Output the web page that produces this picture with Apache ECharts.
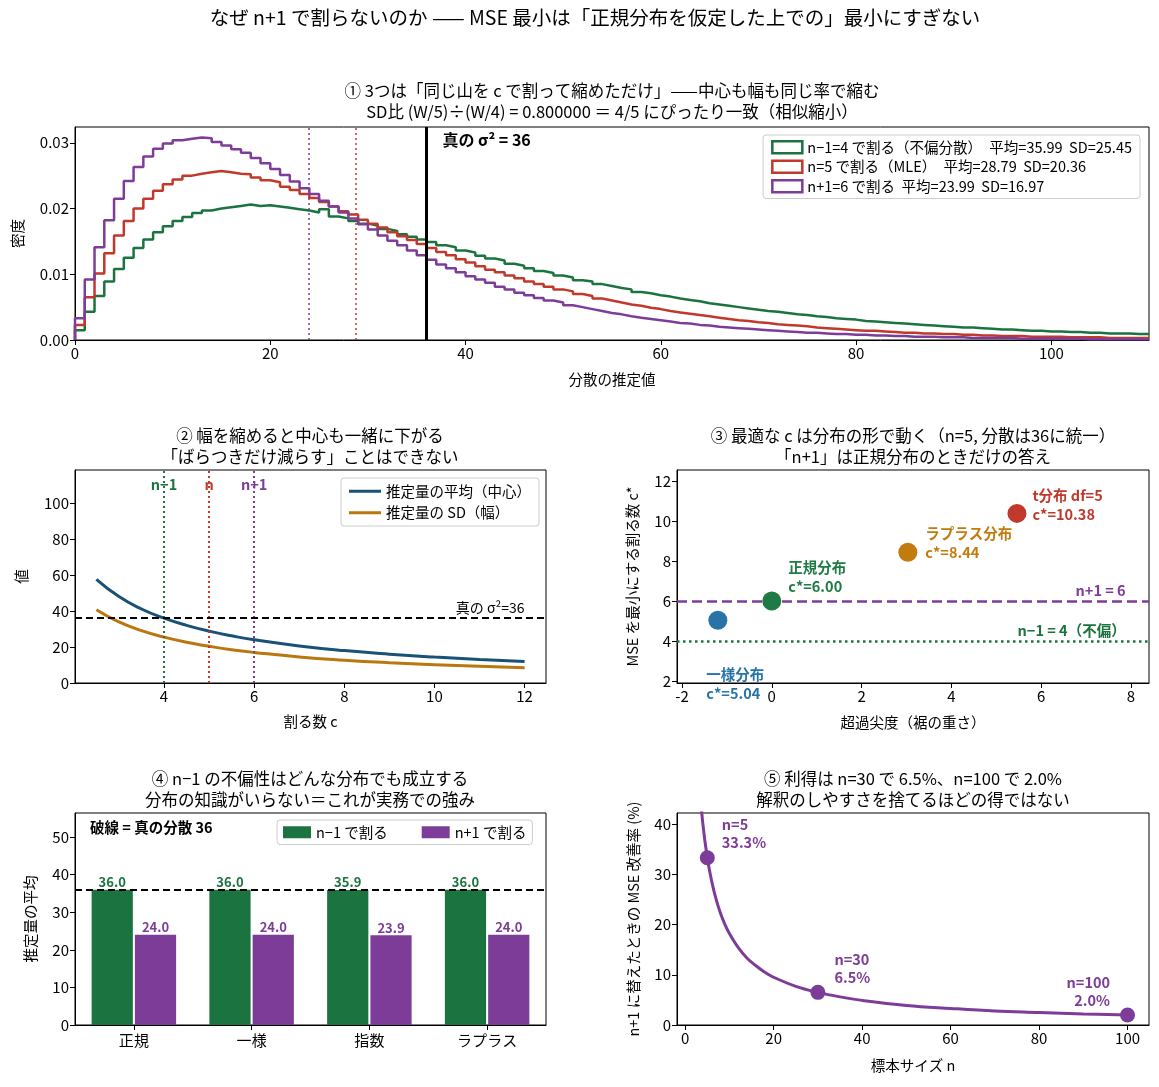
<!DOCTYPE html>
<html>
<head>
<meta charset="utf-8">
<script src="https://cdn.jsdelivr.net/npm/echarts@6/dist/echarts.min.js"></script>
<style>
html, body { margin: 0; padding: 0; background: #fff; }
#main { width: 1159px; height: 1087px; }
</style>
</head>
<body>
<div id="main"></div>
<script>
const FONT = '"Noto Sans CJK JP", "Noto Sans", sans-serif';
const GREEN = '#1b7340', RED = '#c0392b', PURPLE = '#7d3c98';
const BLUE_DARK = '#1a5276', GOLD = '#b9770e';

// ① histogram of the three estimators (1-unit bins starting at 0)
const histStart = 0, histBinWidth = 1;
const densN1 = [
  0.0015,0.0043,0.0067,0.0089,0.0108,0.0125,0.0140,0.0153,0.0164,0.0173,
  0.0181,0.0187,0.0193,0.0197,0.0200,0.0202,0.0204,0.0206,0.0204,0.0205,
  0.0203,0.0201,0.0199,0.0197,0.0194,0.0199,0.0188,0.0185,0.0181,0.0177,
  0.0174,0.0169,0.0166,0.0161,0.0157,0.0153,0.0149,0.0144,0.0141,0.0136,
  0.0133,0.0128,0.0124,0.0121,0.0116,0.0113,0.0109,0.0105,0.0102,0.0098,
  0.0095,0.0091,0.0089,0.0085,0.0082,0.0079,0.0077,0.0073,0.0071,0.0068,
  0.0066,0.0063,0.0061,0.0059,0.0056,0.0054,0.0052,0.0050,0.0048,0.0046,
  0.0044,0.0043,0.0041,0.0039,0.0038,0.0036,0.0035,0.0033,0.0032,0.0031,
  0.0029,0.0028,0.0027,0.0026,0.0025,0.0024,0.0023,0.0022,0.0021,0.0020,
  0.0019,0.0019,0.0018,0.0017,0.0016,0.0016,0.0015,0.0014,0.0014,0.0013,
  0.0013,0.0012,0.0012,0.0011,0.0011,0.0010,0.0010,0.0010,0.0009,0.0009
];
const densN = [
  0.0023,0.0065,0.0101,0.0132,0.0159,0.0181,0.0200,0.0215,0.0227,0.0237,
  0.0244,0.0250,0.0253,0.0255,0.0257,0.0255,0.0253,0.0252,0.0247,0.0243,
  0.0240,0.0233,0.0228,0.0222,0.0216,0.0210,0.0203,0.0196,0.0191,0.0183,
  0.0177,0.0171,0.0164,0.0158,0.0152,0.0146,0.0140,0.0134,0.0129,0.0123,
  0.0118,0.0112,0.0107,0.0103,0.0098,0.0094,0.0089,0.0085,0.0081,0.0077,
  0.0074,0.0070,0.0067,0.0063,0.0060,0.0057,0.0054,0.0052,0.0049,0.0047,
  0.0044,0.0042,0.0040,0.0038,0.0036,0.0034,0.0032,0.0030,0.0029,0.0027,
  0.0026,0.0024,0.0023,0.0022,0.0021,0.0019,0.0018,0.0017,0.0016,0.0015,
  0.0014,0.0014,0.0013,0.0012,0.0011,0.0011,0.0010,0.0010,0.0009,0.0009,
  0.0008,0.0008,0.0007,0.0007,0.0006,0.0006,0.0006,0.0005,0.0005,0.0005,
  0.0005,0.0004,0.0004,0.0004,0.0004,0.0003,0.0003,0.0003,0.0003,0.0003
];
const densN1p = [
  0.0033,0.0092,0.0141,0.0182,0.0215,0.0242,0.0263,0.0279,0.0291,0.0299,
  0.0304,0.0306,0.0308,0.0307,0.0301,0.0296,0.0290,0.0285,0.0277,0.0269,
  0.0260,0.0251,0.0241,0.0231,0.0222,0.0212,0.0203,0.0194,0.0185,0.0176,
  0.0168,0.0159,0.0151,0.0144,0.0136,0.0129,0.0122,0.0115,0.0109,0.0103,
  0.0097,0.0092,0.0087,0.0081,0.0077,0.0072,0.0068,0.0064,0.0060,0.0057,
  0.0053,0.0050,0.0047,0.0044,0.0041,0.0039,0.0036,0.0034,0.0032,0.0030,
  0.0028,0.0026,0.0025,0.0023,0.0022,0.0020,0.0019,0.0018,0.0017,0.0016,
  0.0015,0.0014,0.0013,0.0012,0.0011,0.0011,0.0010,0.0009,0.0009,0.0008,
  0.0008,0.0007,0.0007,0.0006,0.0006,0.0005,0.0005,0.0005,0.0004,0.0004,
  0.0004,0.0003,0.0003,0.0003,0.0003,0.0003,0.0002,0.0002,0.0002,0.0002,
  0.0002,0.0002,0.0002,0.0001,0.0001,0.0001,0.0001,0.0001,0.0001,0.0001
];
const histNames = [
  'n−1=4 で割る（不偏分散）　平均=35.99  SD=25.45',
  'n=5 で割る（MLE）　平均=28.79  SD=20.36',
  'n+1=6 で割る  平均=23.99  SD=16.97'
];
const meanN1p = 23.99, meanN = 28.79, trueVar = 36;

// ② mean / SD of the estimator against the divisor c
const divisorC = [2.5, 3, 3.5, 4, 4.5, 5, 5.5, 6, 7, 8, 9, 10, 11, 12];
const estMean = [57.6, 48.0, 41.1, 36.0, 32.0, 28.8, 26.2, 24.0, 20.6, 18.0, 16.0, 14.4, 13.1, 12.0];
const estSD = [40.7, 33.9, 29.1, 25.5, 22.6, 20.4, 18.5, 17.0, 14.5, 12.7, 11.3, 10.2, 9.3, 8.5];

// ③ optimal c vs excess kurtosis
const distNames = ['一様分布', '正規分布', 'ラプラス分布', 't分布 df=5'];
const excessKurt = [-1.2, 0, 3.03, 5.46];
const bestC = [5.04, 6.00, 8.44, 10.38];
const distColors = ['#2874a6', '#1e7b45', '#c27c0e', '#c0392b'];

// ④ mean of the estimators per distribution
const distCats = ['正規', '一様', '指数', 'ラプラス'];
const barN1 = [36.0, 36.0, 35.9, 36.0];
const barN1p = [24.0, 24.0, 23.9, 24.0];

// ⑤ MSE gain of n+1 over n−1
const sampleN = [3, 4, 5, 6, 7, 8, 9, 10, 12, 14, 16, 18, 20, 25, 30, 35, 40, 50, 60, 70, 80, 90, 100];
const gainPct = [50.0, 40.0, 33.3, 28.6, 25.0, 22.2, 20.0, 18.2, 15.4, 13.3, 11.8, 10.5, 9.5, 7.7, 6.5, 5.6, 4.9, 3.9, 3.3, 2.8, 2.5, 2.2, 2.0];
const markN = [5, 30, 100];
const markPct = [33.3, 6.5, 2.0];

const histPoints = d => {
  const pts = [[histStart, 0]];
  d.forEach((v, i) => pts.push([histStart + i * histBinWidth, v]));
  pts.push([histStart + d.length * histBinWidth, d[d.length - 1]]);
  return pts;
};

function valAxis(gi, min, max, ticks, name, nameGap, fmt) {
  return {
    type: 'value', gridIndex: gi, min: min, max: max,
    name: name || '', nameLocation: 'middle', nameGap: nameGap || 30,
    nameTextStyle: { color: '#000', fontSize: 14.5, fontFamily: FONT },
    axisLine: { show: true, onZero: false, lineStyle: { color: '#000', width: 1 } },
    axisTick: { show: true, customValues: ticks, length: 5, lineStyle: { color: '#000' } },
    axisLabel: { customValues: ticks, color: '#000', fontSize: 15, fontFamily: FONT, margin: 6, formatter: fmt },
    splitLine: { show: false }
  };
}

const box = (left, top, width, height) => ({
  left, top, width, height, show: true, borderColor: '#000', borderWidth: 1
});

function notes(gi, items) {
  return {
    type: 'scatter', name: 'notes' + gi, xAxisIndex: gi, yAxisIndex: gi,
    symbolSize: 1, silent: true, z: 10, itemStyle: { color: 'rgba(0,0,0,0)', opacity: 1 },
    data: items.map(it => ({
      value: [it.x, it.y],
      label: Object.assign({
        show: true, position: 'inside', formatter: it.text, fontFamily: FONT,
        fontWeight: 'bold', fontSize: 14.5, color: it.color || '#000',
        align: 'left', verticalAlign: 'middle', lineHeight: 19
      }, it.label || {})
    }))
  };
}

const subTitle = (text, x, top) => ({
  text: text, left: x, top: top, textAlign: 'center', padding: 0,
  textStyle: { fontSize: 16.5, fontWeight: 'normal', color: '#000', fontFamily: FONT, lineHeight: 21 }
});

const legendBase = {
  backgroundColor: 'rgba(255,255,255,0.85)', borderColor: '#ccc', borderWidth: 1,
  borderRadius: 3, textStyle: { fontSize: 14.5, fontFamily: FONT, color: '#000' }
};

const chart = echarts.init(document.getElementById('main'));

const option = {
  animation: false,
  backgroundColor: '#fff',
  title: [
    { text: 'なぜ n+1 で割らないのか —— MSE 最小は「正規分布を仮定した上での」最小にすぎない',
      left: 595, top: 8, textAlign: 'center', padding: 0,
      textStyle: { fontSize: 19.5, fontWeight: 'normal', color: '#000', fontFamily: FONT } },
    subTitle('① 3つは「同じ山を c で割って縮めただけ」——中心も幅も同じ率で縮む\nSD比 (W/5)÷(W/4) = 0.800000 ＝ 4/5 にぴったり一致（相似縮小）', 612, 80),
    subTitle('② 幅を縮めると中心も一緒に下がる\n「ばらつきだけ減らす」ことはできない', 310, 425),
    subTitle('③ 最適な c は分布の形で動く（n=5, 分散は36に統一）\n「n+1」は正規分布のときだけの答え', 913, 425),
    subTitle('④ n−1 の不偏性はどんな分布でも成立する\n分布の知識がいらない＝これが実務での強み', 310, 768),
    subTitle('⑤ 利得は n=30 で 6.5%、n=100 で 2.0%\n解釈のしやすさを捨てるほどの得ではない', 913, 768)
  ],
  graphic: [
    { type: 'text', left: 90, top: 820,
      style: { text: '破線 = 真の分散 36', font: 'bold 14.5px "Noto Sans CJK JP"', fill: '#000' } }
  ],
  legend: [
    Object.assign({}, legendBase, {
      orient: 'vertical', right: 19, top: 135, padding: [5, 8], itemGap: 5,
      itemWidth: 30, itemHeight: 12,
      data: histNames.map((n, i) => ({
        name: n, icon: 'rect',
        itemStyle: { color: '#fff', borderColor: [GREEN, RED, PURPLE][i], borderWidth: 2.5 }
      }))
    }),
    Object.assign({}, legendBase, {
      orient: 'vertical', left: 341, top: 478, padding: [6, 8], itemGap: 7,
      itemWidth: 32, itemHeight: 3,
      data: [{ name: '推定量の平均（中心）', icon: 'rect' }, { name: '推定量の SD（幅）', icon: 'rect' }]
    }),
    Object.assign({}, legendBase, {
      orient: 'horizontal', left: 277, top: 820, padding: [5, 6], itemGap: 34,
      itemWidth: 28, itemHeight: 12,
      data: [{ name: 'n−1 で割る', icon: 'rect' }, { name: 'n+1 で割る', icon: 'rect' }]
    })
  ],
  grid: [
    box(75, 127, 1074, 213),
    box(75, 470, 471, 213),
    box(677, 470, 472, 213),
    box(75, 813, 471, 212),
    box(677, 813, 472, 212)
  ],
  xAxis: [
    valAxis(0, 0, 110, [0, 20, 40, 60, 80, 100], '分散の推定値', 32),
    valAxis(1, 2.025, 12.475, [4, 6, 8, 10, 12], '割る数 c', 31),
    valAxis(2, -2.11, 8.4, [-2, 0, 2, 4, 6, 8], '超過尖度（裾の重さ）', 32),
    {
      type: 'category', gridIndex: 3, data: distCats,
      axisLine: { show: true, lineStyle: { color: '#000' } },
      axisTick: { show: true, alignWithLabel: true, length: 5, lineStyle: { color: '#000' } },
      axisLabel: { color: '#000', fontSize: 15, fontFamily: FONT, margin: 8 }
    },
    valAxis(4, -1.85, 104.85, [0, 20, 40, 60, 80, 100], '標本サイズ n', 33)
  ],
  yAxis: [
    valAxis(0, 0, 0.0324, [0, 0.01, 0.02, 0.03], '密度', 50, v => v.toFixed(2)),
    valAxis(1, 0, 118.3, [0, 20, 40, 60, 80, 100], '値', 46),
    valAxis(2, 1.9, 12.55, [2, 4, 6, 8, 10, 12], 'MSE を最小にする割る数 c*', 37),
    valAxis(3, 0, 56.4, [0, 10, 20, 30, 40, 50], '推定量の平均', 37),
    valAxis(4, 0, 42.2, [0, 10, 20, 30, 40], 'n+1 に替えたときの MSE 改善率 (%)', 36)
  ],
  series: [
    // ① histograms
    ...[densN1, densN, densN1p].map((d, i) => ({
      type: 'line', name: histNames[i], xAxisIndex: 0, yAxisIndex: 0,
      data: histPoints(d), step: 'end', symbol: 'none',
      color: [GREEN, RED, PURPLE][i],
      lineStyle: { width: 2.5, color: [GREEN, RED, PURPLE][i] },
      markLine: i === 2 ? {
        silent: true, symbol: 'none', label: { show: false },
        data: [
          { xAxis: meanN1p, lineStyle: { color: PURPLE, width: 1.5, type: [2, 3] } },
          { xAxis: meanN, lineStyle: { color: RED, width: 1.5, type: [2, 3] } },
          { xAxis: trueVar, lineStyle: { color: '#000', width: 3, type: 'solid' } }
        ]
      } : undefined
    })),
    notes(0, [
      { x: trueVar, y: 0.0304, text: '真の σ² = 36', label: { offset: [16, 0], fontSize: 16 } }
    ]),

    // ② mean and SD curves
    {
      type: 'line', name: '推定量の平均（中心）', xAxisIndex: 1, yAxisIndex: 1,
      data: divisorC.map((c, i) => [c, estMean[i]]), smooth: true, symbol: 'none',
      color: BLUE_DARK, lineStyle: { width: 3, color: BLUE_DARK },
      markLine: {
        silent: true, symbol: 'none', label: { show: false },
        data: [
          { xAxis: 4, lineStyle: { color: GREEN, width: 2, type: [2, 3] } },
          { xAxis: 5, lineStyle: { color: RED, width: 2, type: [2, 3] } },
          { xAxis: 6, lineStyle: { color: PURPLE, width: 2, type: [2, 3] } },
          { yAxis: trueVar, lineStyle: { color: '#000', width: 2, type: [7, 4] } }
        ]
      }
    },
    {
      type: 'line', name: '推定量の SD（幅）', xAxisIndex: 1, yAxisIndex: 1,
      data: divisorC.map((c, i) => [c, estSD[i]]), smooth: true, symbol: 'none',
      color: GOLD, lineStyle: { width: 3, color: GOLD }
    },
    notes(1, [
      { x: 4, y: 110.5, text: 'n−1', color: GREEN, label: { align: 'center' } },
      { x: 5, y: 110.5, text: 'n', color: RED, label: { align: 'center' } },
      { x: 6, y: 110.5, text: 'n+1', color: PURPLE, label: { align: 'center' } },
      { x: 12, y: trueVar, text: '真の σ²=36',
        label: { align: 'right', verticalAlign: 'bottom', fontWeight: 'normal', fontSize: 14, offset: [0, -1] } }
    ]),

    // ③ optimal c
    {
      type: 'scatter', name: 'bestC', xAxisIndex: 2, yAxisIndex: 2, symbolSize: 19, z: 5,
      data: excessKurt.map((k, i) => ({
        value: [k, bestC[i]],
        itemStyle: { color: distColors[i], opacity: 1 },
        label: {
          show: true, position: 'right', distance: 5,
          offset: [[-26, 64], [2, -24], [3, -9], [1, -8]][i],
          formatter: distNames[i] + '\nc*=' + bestC[i].toFixed(2),
          color: distColors[i], fontFamily: FONT, fontWeight: 'bold', fontSize: 14.5,
          lineHeight: 19, align: 'left', verticalAlign: 'middle'
        }
      })),
      markLine: {
        silent: true, symbol: 'none', label: { show: false },
        data: [
          { yAxis: 6, lineStyle: { color: PURPLE, width: 2.5, type: [10, 5] } },
          { yAxis: 4, lineStyle: { color: GREEN, width: 2.5, type: [2.5, 3.5] } }
        ]
      }
    },
    notes(2, [
      { x: 7.88, y: 6, text: 'n+1 = 6', color: PURPLE, label: { align: 'right', verticalAlign: 'bottom', offset: [0, -1] } },
      { x: 7.88, y: 4, text: 'n−1 = 4（不偏）', color: GREEN, label: { align: 'right', verticalAlign: 'bottom', offset: [0, -1] } }
    ]),

    // ④ bars
    {
      type: 'bar', name: 'n−1 で割る', xAxisIndex: 3, yAxisIndex: 3, data: barN1,
      barWidth: '35%', barGap: '5%', color: GREEN, itemStyle: { color: GREEN },
      label: { show: true, position: 'top', distance: 1, color: GREEN, fontFamily: FONT,
        fontWeight: 'bold', fontSize: 13, formatter: p => p.value.toFixed(1) },
      markLine: {
        silent: true, symbol: 'none', label: { show: false }, z: 10,
        data: [{ yAxis: trueVar, lineStyle: { color: '#000', width: 2, type: [7, 4] } }]
      }
    },
    {
      type: 'bar', name: 'n+1 で割る', xAxisIndex: 3, yAxisIndex: 3, data: barN1p,
      barWidth: '35%', barGap: '5%', color: PURPLE, itemStyle: { color: PURPLE },
      label: { show: true, position: 'top', distance: 1, color: PURPLE, fontFamily: FONT,
        fontWeight: 'bold', fontSize: 13, formatter: p => p.value.toFixed(1) }
    },

    // ⑤ gain curve
    {
      type: 'line', name: 'gain', xAxisIndex: 4, yAxisIndex: 4,
      data: sampleN.map((n, i) => [n, gainPct[i]]), smooth: 0.4, symbol: 'none',
      lineStyle: { width: 3, color: PURPLE }, clip: true
    },
    {
      type: 'scatter', name: 'gainMarks', xAxisIndex: 4, yAxisIndex: 4, symbolSize: 15, z: 5,
      itemStyle: { color: PURPLE, opacity: 1 },
      data: markN.map((n, i) => ({
        value: [n, markPct[i]],
        label: {
          show: true, position: i === 2 ? 'left' : 'right', distance: 5,
          offset: [[2, -24], [4, -24], [-5, -23]][i],
          formatter: 'n=' + n + '\n' + markPct[i].toFixed(1) + '%',
          color: PURPLE, fontFamily: FONT, fontWeight: 'bold', fontSize: 14.5, lineHeight: 18,
          align: i === 2 ? 'right' : 'left', verticalAlign: 'middle'
        }
      }))
    }
  ]
};

chart.setOption(option);
</script>
</body>
</html>
